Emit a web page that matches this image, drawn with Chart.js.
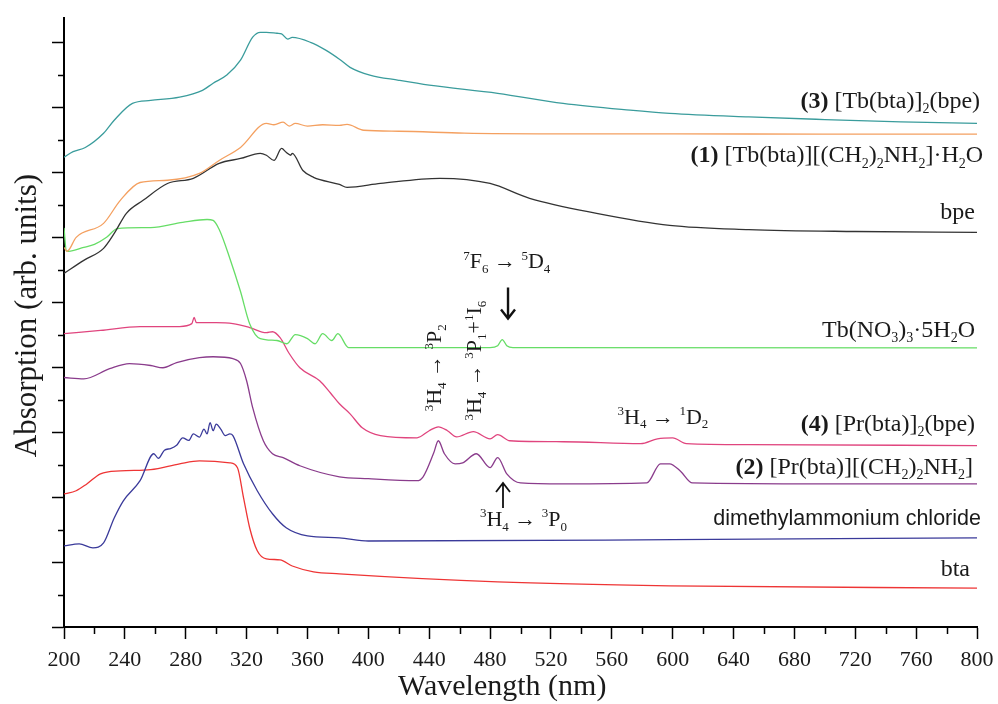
<!DOCTYPE html>
<html>
<head>
<meta charset="utf-8">
<script src="https://cdn.jsdelivr.net/npm/chart.js@4.4.0/dist/chart.umd.min.js"></script>
<style>
  html, body { margin: 0; padding: 0; background: #fff; }
</style>
</head>
<body>
<canvas id="absChart" width="998" height="704"></canvas>
<script>
// UV-vis absorption spectra, arbitrary units (curves offset for clarity)

// (3) [Tb(bta)]2(bpe)
const tb3Nm  = [200, 206, 214, 226, 233, 245, 257, 276, 291, 298, 307, 316, 324, 329, 333, 340, 343, 347, 350, 362, 372, 381, 388, 401, 420, 440, 485, 528, 572, 598, 650, 700, 750, 800];
const tb3Abs = [14.48, 14.65, 14.78, 15.22, 15.62, 16.14, 16.23, 16.33, 16.54, 16.76, 17.01, 17.47, 18.18, 18.33, 18.33, 18.30, 18.28, 18.12, 18.17, 18.02, 17.78, 17.50, 17.25, 17.01, 16.85, 16.70, 16.45, 16.14, 15.93, 15.83, 15.72, 15.64, 15.57, 15.52];

// (1) [Tb(bta)][(CH2)2NH2]·H2O
const tb1Nm  = [200, 202, 208, 226, 237, 250, 268, 289, 302, 316, 333, 338, 344, 348, 352, 360, 370, 381, 386, 397, 420, 463, 520, 600, 700, 800];
const tb1Abs = [11.70, 11.58, 12.01, 12.44, 13.15, 13.70, 13.77, 13.98, 14.38, 14.78, 15.52, 15.48, 15.56, 15.44, 15.52, 15.44, 15.48, 15.46, 15.49, 15.31, 15.28, 15.22, 15.20, 15.20, 15.19, 15.19];

// bpe
const bpeNm  = [200, 213, 226, 233, 241, 252, 268, 285, 302, 316, 329, 333, 338, 343, 346, 349, 350, 357, 364, 381, 386, 408, 447, 480, 506, 550, 598, 650, 720, 800];
const bpeAbs = [10.90, 11.30, 11.67, 12.13, 12.75, 13.15, 13.67, 13.83, 14.29, 14.44, 14.60, 14.54, 14.38, 14.75, 14.63, 14.54, 14.60, 14.07, 13.86, 13.64, 13.55, 13.67, 13.83, 13.67, 13.21, 12.75, 12.38, 12.25, 12.19, 12.16];

// Tb(NO3)3·5H2O
const tbnNm  = [200, 201.5, 203, 213, 220, 228, 235, 257, 278, 294, 298, 302, 309, 316, 322, 329, 340, 346.5, 352, 360, 365, 370, 376, 380, 387, 400, 480, 485, 488, 491, 495, 800];
const tbnAbs = [12.30, 11.60, 11.58, 11.70, 11.79, 12.01, 12.28, 12.31, 12.47, 12.56, 12.53, 12.25, 11.36, 10.34, 9.35, 8.89, 8.83, 8.73, 9.01, 8.89, 8.73, 9.04, 8.83, 9.04, 8.61, 8.61, 8.61, 8.67, 8.86, 8.67, 8.61, 8.60];

// (4) [Pr(bta)]2(bpe)
const pr4Nm  = [200, 224, 250, 276, 284, 285.5, 287, 300, 311, 322, 333, 337, 342, 348, 355, 368, 375, 381, 388, 396, 408, 432, 440, 446, 452, 458, 469, 480, 485, 493, 528, 579, 590, 600, 609, 650, 800];
const pr4Abs = [9.04, 9.14, 9.26, 9.26, 9.35, 9.54, 9.38, 9.38, 9.35, 9.23, 9.07, 9.10, 8.92, 8.43, 7.99, 7.59, 7.22, 6.88, 6.57, 6.14, 5.90, 5.83, 6.05, 6.17, 6.05, 5.86, 6.02, 5.80, 5.93, 5.74, 5.71, 5.65, 5.80, 5.83, 5.65, 5.62, 5.59];

// (2) [Pr(bta)][(CH2)2NH2]
const pr2Nm  = [200, 213, 230, 243, 257, 265, 274, 289, 298, 311, 316, 320, 324, 331, 337, 344, 355, 381, 400, 432, 436, 443, 446, 450, 457, 462, 471, 480, 485, 491, 500, 528, 583, 592, 598, 605, 613, 700, 800];
const pr2Abs = [7.69, 7.65, 7.96, 8.12, 8.06, 7.99, 8.15, 8.30, 8.33, 8.27, 8.12, 7.59, 6.76, 5.74, 5.34, 5.22, 4.97, 4.63, 4.57, 4.51, 4.63, 5.37, 5.74, 5.34, 5.03, 5.06, 5.34, 4.91, 5.22, 4.72, 4.44, 4.41, 4.44, 5.03, 5.03, 4.81, 4.44, 4.41, 4.41];

// dimethylammonium chloride
const dmaNm  = [200, 210, 219, 226, 233, 239, 250, 259, 262, 266, 270, 274, 278, 282, 285, 289, 292, 294, 296, 298, 300, 303, 306, 309, 311, 318, 327, 337, 346, 360, 381, 400, 600, 800];
const dmaAbs = [2.50, 2.56, 2.44, 2.59, 3.36, 3.89, 4.51, 5.34, 5.20, 5.45, 5.50, 5.60, 5.83, 5.75, 5.95, 5.85, 6.10, 5.95, 6.30, 6.05, 6.25, 6.10, 5.90, 5.95, 5.90, 5.03, 4.20, 3.49, 3.06, 2.81, 2.75, 2.65, 2.69, 2.75];

// bta
const btaNm  = [200, 208, 215, 224, 237, 257, 276, 289, 309, 314, 318, 322, 327, 333, 342, 350, 364, 381, 485, 598, 800];
const btaAbs = [4.10, 4.20, 4.41, 4.72, 4.81, 4.85, 5.03, 5.12, 5.06, 4.91, 3.98, 3.06, 2.35, 2.10, 2.07, 1.88, 1.70, 1.64, 1.39, 1.27, 1.20];

const wavelengthTicks = [200, 240, 280, 320, 360, 400, 440, 480, 520, 560, 600, 640, 680, 720, 760, 800];

function toPoints(xs, ys) {
    return xs.map((x, i) => ({ x: x, y: ys[i] }));
}

function series(label, xs, ys, color) {
    return {
        label: label,
        data: toPoints(xs, ys),
        borderColor: color,
        borderWidth: 1.3,
        pointRadius: 0,
        cubicInterpolationMode: 'monotone',
        fill: false
    };
}

const serif = '"Liberation Serif", "Times New Roman", serif';
const sans = '"Liberation Sans", Arial, sans-serif';

// rich text: [text, kind] with kind '', 'b', 'sub', 'sup', 'sans'
function fontFor(kind, size) {
    if (kind === 'b') return 'bold ' + size + 'px ' + serif;
    if (kind === 'sub' || kind === 'sup') return Math.round(size * 0.6) + 'px ' + serif;
    if (kind === 'sans') return size + 'px ' + sans;
    return size + 'px ' + serif;
}

function richWidth(ctx, parts, size) {
    let w = 0;
    parts.forEach(p => { ctx.font = fontFor(p[1], size); w += ctx.measureText(p[0]).width; });
    return w;
}

function drawRich(ctx, parts, x, y, align, size) {
    const w = richWidth(ctx, parts, size);
    let cx = align === 'right' ? x - w : (align === 'center' ? x - w / 2 : x);
    ctx.textAlign = 'left';
    ctx.textBaseline = 'alphabetic';
    ctx.fillStyle = '#1a1a1a';
    parts.forEach(p => {
        ctx.font = fontFor(p[1], size);
        let dy = 0;
        if (p[1] === 'sub') dy = size * 0.22;
        if (p[1] === 'sup') dy = -size * 0.38;
        ctx.fillText(p[0], cx, y + dy);
        cx += ctx.measureText(p[0]).width;
    });
}

// curve names at the right end, [nm of right edge, baseline value, parts]
const curveLabels = [
    [802, 15.99, [['(3)', 'b'], [' [Tb(bta)]', ''], ['2', 'sub'], ['(bpe)', '']]],
    [804, 14.32, [['(1)', 'b'], [' [Tb(bta)][(CH', ''], ['2', 'sub'], [')', ''], ['2', 'sub'], ['NH', ''], ['2', 'sub'], [']·H', ''], ['2', 'sub'], ['O', '']]],
    [798.7, 12.59, [['bpe', '']]],
    [798.7, 8.95, [['Tb(NO', ''], ['3', 'sub'], [')', ''], ['3', 'sub'], ['·5H', ''], ['2', 'sub'], ['O', '']]],
    [798.7, 6.05, [['(4)', 'b'], [' [Pr(bta)]', ''], ['2', 'sub'], ['(bpe)', '']]],
    [797.4, 4.72, [['(2)', 'b'], [' [Pr(bta)][(CH', ''], ['2', 'sub'], [')', ''], ['2', 'sub'], ['NH', ''], ['2', 'sub'], [']', '']]],
    [802.6, 3.15, [['dimethylammonium chloride', 'sans']]],
    [795.4, 1.57, [['bta', '']]]
];

// transition labels, [nm, value, rotated, parts]
const transitions = [
    [491, 11.05, false, [['7', 'sup'], ['F', ''], ['6', 'sub'], [' → ', ''], ['5', 'sup'], ['D', ''], ['4', 'sub']]],
    [448, 7.99, true, [['3', 'sup'], ['H', ''], ['4', 'sub'], [' → ', ''], ['3', 'sup'], ['P', ''], ['2', 'sub']]],
    [474, 8.21, true, [['3', 'sup'], ['H', ''], ['4', 'sub'], [' → ', ''], ['3', 'sup'], ['P', ''], ['1', 'sub'], ['+', ''], ['1', 'sup'], ['I', ''], ['6', 'sub']]],
    [593.6, 6.27, false, [['3', 'sup'], ['H', ''], ['4', 'sub'], [' → ', ''], ['1', 'sup'], ['D', ''], ['2', 'sub']]],
    [502, 3.12, false, [['3', 'sup'], ['H', ''], ['4', 'sub'], [' → ', ''], ['3', 'sup'], ['P', ''], ['0', 'sub']]]
];

// arrows, [nm, from value, to value, line width]
const arrows = [
    [491.8, 10.46, 9.51, 2.4],
    [488.5, 3.67, 4.44, 1.8]
];

const labelPlugin = {
    id: 'spectraLabels',
    afterDraw(chart) {
        const ctx = chart.ctx;
        const xs = chart.scales.x;
        const ys = chart.scales.y;
        const area = chart.chartArea;

        // minor ticks
        ctx.save();
        ctx.strokeStyle = '#000';
        ctx.lineWidth = 1.5;
        ctx.beginPath();
        for (let v = 220; v < 800; v += 40) {
            const px = Math.round(xs.getPixelForValue(v)) + 0.5;
            ctx.moveTo(px, area.bottom);
            ctx.lineTo(px, area.bottom + 7);
        }
        for (let v = 1; v < 19; v += 2) {
            const py = Math.round(ys.getPixelForValue(v)) + 0.5;
            ctx.moveTo(area.left - 6, py);
            ctx.lineTo(area.left, py);
        }
        ctx.stroke();

        // axis titles
        ctx.fillStyle = '#1a1a1a';
        ctx.textAlign = 'center';
        ctx.textBaseline = 'alphabetic';
        ctx.font = '30px ' + serif;
        ctx.fillText('Wavelength (nm)', xs.getPixelForValue(488), 695);
        ctx.save();
        ctx.translate(36, ys.getPixelForValue(9.6));
        ctx.rotate(-Math.PI / 2);
        ctx.font = '31px ' + serif;
        ctx.fillText('Absorption (arb. units)', 0, 0);
        ctx.restore();

        curveLabels.forEach(l => {
            drawRich(ctx, l[2], xs.getPixelForValue(l[0]), ys.getPixelForValue(l[1]), 'right', l[2][0][1] === 'sans' ? 21.5 : 24);
        });

        transitions.forEach(t => {
            const px = xs.getPixelForValue(t[0]);
            const py = ys.getPixelForValue(t[1]);
            if (t[2]) {
                ctx.save();
                ctx.translate(px, py);
                ctx.rotate(-Math.PI / 2);
                drawRich(ctx, t[3], 0, 0, 'center', 22);
                ctx.restore();
            } else {
                drawRich(ctx, t[3], px, py, 'center', 22);
            }
        });

        arrows.forEach(a => {
            const px = xs.getPixelForValue(a[0]);
            const y0 = ys.getPixelForValue(a[1]);
            const y1 = ys.getPixelForValue(a[2]);
            const dir = y1 > y0 ? 1 : -1;
            ctx.strokeStyle = '#111';
            ctx.lineWidth = a[3];
            ctx.beginPath();
            ctx.moveTo(px, y0);
            ctx.lineTo(px, y1);
            ctx.moveTo(px - 7, y1 - dir * 9);
            ctx.lineTo(px, y1);
            ctx.lineTo(px + 7, y1 - dir * 9);
            ctx.stroke();
        });
        ctx.restore();
    }
};

const ctxAbs = document.getElementById('absChart').getContext('2d');
const absChart = new Chart(ctxAbs, {
    type: 'line',
    data: {
        datasets: [
            series('(3) [Tb(bta)]2(bpe)', tb3Nm, tb3Abs, '#3a9c9c'),
            series('(1) [Tb(bta)][(CH2)2NH2]·H2O', tb1Nm, tb1Abs, '#f4a060'),
            series('bpe', bpeNm, bpeAbs, '#333333'),
            series('Tb(NO3)3·5H2O', tbnNm, tbnAbs, '#66dd66'),
            series('(4) [Pr(bta)]2(bpe)', pr4Nm, pr4Abs, '#e0457e'),
            series('(2) [Pr(bta)][(CH2)2NH2]', pr2Nm, pr2Abs, '#8a3c8c'),
            series('dimethylammonium chloride', dmaNm, dmaAbs, '#3a3a9a'),
            series('bta', btaNm, btaAbs, '#ee3535')
        ]
    },
    options: {
        responsive: false,
        animation: false,
        layout: { padding: { top: 18, right: 21, left: 52, bottom: 23 } },
        plugins: {
            legend: { display: false },
            tooltip: { enabled: false }
        },
        scales: {
            x: {
                type: 'linear',
                min: 200,
                max: 800,
                afterBuildTicks: scale => { scale.ticks = wavelengthTicks.map(v => ({ value: v })); },
                // the end labels may hang over the padding
                afterFit: scale => { scale.paddingLeft = 0; scale.paddingRight = 0; },
                ticks: {
                    autoSkip: false,
                    maxRotation: 0,
                    padding: 10,
                    color: '#1a1a1a',
                    font: { family: serif, size: 22, lineHeight: 1 }
                },
                grid: { drawOnChartArea: false, tickLength: 12, tickColor: '#000', tickWidth: 1.5 },
                border: { color: '#000', width: 2 }
            },
            y: {
                min: 0,
                max: 18.77,
                ticks: {
                    stepSize: 2,
                    includeBounds: false,
                    padding: 0,
                    callback: () => ''
                },
                grid: { drawOnChartArea: false, tickLength: 12, tickColor: '#000', tickWidth: 1.5 },
                border: { color: '#000', width: 2 }
            }
        }
    },
    plugins: [labelPlugin]
});
</script>
</body>
</html>
